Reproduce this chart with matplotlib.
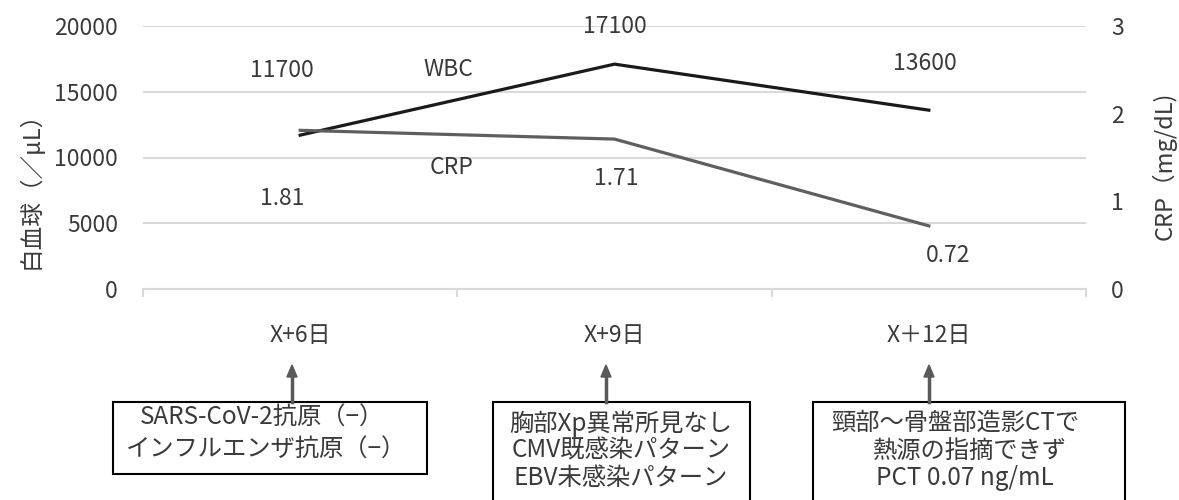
import numpy as np
import matplotlib.pyplot as plt
from matplotlib.patches import Rectangle

plt.rcParams['font.family'] = ['Noto Sans CJK JP', 'DejaVu Sans']

# data
days = ["X+6日", "X+9日", "X＋12日"]
wbc = [11700, 17100, 13600]
crp = [1.81, 1.71, 0.72]
wbc_ticks = [0, 5000, 10000, 15000, 20000]
crp_ticks = [0, 1, 2, 3]

notes = [
    ["SARS-CoV-2抗原（−）", "インフルエンザ抗原（−）"],
    ["胸部Xp異常所見なし", "CMV既感染パターン", "EBV未感染パターン"],
    ["頸部～骨盤部造影CTで", "熱源の指摘できず", "PCT 0.07 ng/mL"],
]

# label offsets in pixels (hand placed like the original)
wbc_off = [(-18, 65), (0, 38), (-4, 47)]
crp_off = [(-18, -68), (2, -39), (19, -30)]

txt = '#3a3a3a'
grid = '#d9d9d9'
fs = 16.5

fig = plt.figure(figsize=(11.79, 5), dpi=100)
W, H = 1179, 500
ax = fig.add_axes([143 / W, 1 - 289 / H, 943 / W, 263 / H])
ax2 = ax.twinx()

x = np.arange(len(days))
ax.plot(x, wbc, color='#1a1a1a', lw=2.3, zorder=3)
ax2.plot(x, crp, color='#5f5f5f', lw=2.3, zorder=3)

for xi, v, off in zip(x, wbc, wbc_off):
    ax.annotate(str(v), (xi, v), xytext=off, textcoords='offset pixels',
                ha='center', va='center', fontsize=fs, color=txt)
for xi, v, off in zip(x, crp, crp_off):
    ax2.annotate(f"{v:.2f}", (xi, v), xytext=off, textcoords='offset pixels',
                 ha='center', va='center', fontsize=fs, color=txt)

ax.text((448 - 143) / 943, (289 - 70) / 263, "WBC", transform=ax.transAxes,
        ha='center', va='center', fontsize=fs, color=txt)
ax.text((452 - 143) / 943, (289 - 167) / 263, "CRP", transform=ax.transAxes,
        ha='center', va='center', fontsize=fs, color=txt)

ax.set_xlim(-0.5, len(days) - 0.5)
ax.set_ylim(0, 20000)
ax2.set_ylim(0, 3)
ax.set_yticks(wbc_ticks)
ax2.set_yticks(crp_ticks)
ax.set_xticks(x)
ax.set_xticklabels(days)
ax.set_xticks(np.arange(-0.5, len(days)), minor=True)
ax.grid(axis='y', color=grid, lw=1.5)
ax.set_axisbelow(True)

for a in (ax, ax2):
    for s in a.spines.values():
        s.set_visible(False)
ax.spines['bottom'].set_visible(True)
ax.spines['bottom'].set_color(grid)
ax.spines['bottom'].set_linewidth(1.5)

ax.tick_params(axis='x', which='major', length=0, pad=25, labelsize=fs, labelcolor=txt)
ax.tick_params(axis='x', which='minor', length=6, width=1.5, color=grid)
ax.tick_params(axis='y', length=0, pad=18, labelsize=fs, labelcolor=txt)
ax2.tick_params(axis='y', length=0, pad=18, labelsize=fs, labelcolor=txt)

fig.text(30 / W, 1 - 184 / H, "白血球（／μL）", rotation=90, ha='center', va='center',
         fontsize=17, color=txt)
fig.text(1164 / W, 1 - 166 / H, "CRP（mg/dL)", rotation=90, ha='center', va='center',
         fontsize=17, color=txt)

# note boxes with arrows
boxes = [(113, 427, 474), (493, 750, 515), (813, 1125, 515)]
arrows_x = [292, 606, 929]
text_cx = [[262, 266], [621, 621, 621], [955, 970, 965]]
line_y = [[418, 450], [424, 451, 478], [423, 451, 478]]

for (x0, x1, y1), ax_, lines, cxs, ys in zip(boxes, arrows_x, notes, text_cx, line_y):
    fig.patches.append(Rectangle((x0 / W, 1 - y1 / H), (x1 - x0) / W, (y1 - 402) / H,
                                 transform=fig.transFigure, fill=False,
                                 ec='black', lw=1.5, clip_on=False))
    fig.patches.append(plt.Polygon([[(ax_ - 5) / W, 1 - 377 / H], [(ax_ + 5) / W, 1 - 377 / H],
                                    [ax_ / W, 1 - 365 / H]], closed=True,
                                   transform=fig.transFigure, color='#595959'))
    fig.lines.append(plt.Line2D([ax_ / W, ax_ / W], [1 - 402 / H, 1 - 376 / H],
                                transform=fig.transFigure, color='#595959', lw=2.5))
    for line, cx, cy in zip(lines, cxs, ys):
        fig.text(cx / W, 1 - cy / H, line, ha='center', va='center',
                 fontsize=17.5, color=txt)

fig.savefig('out.png', dpi=100)
